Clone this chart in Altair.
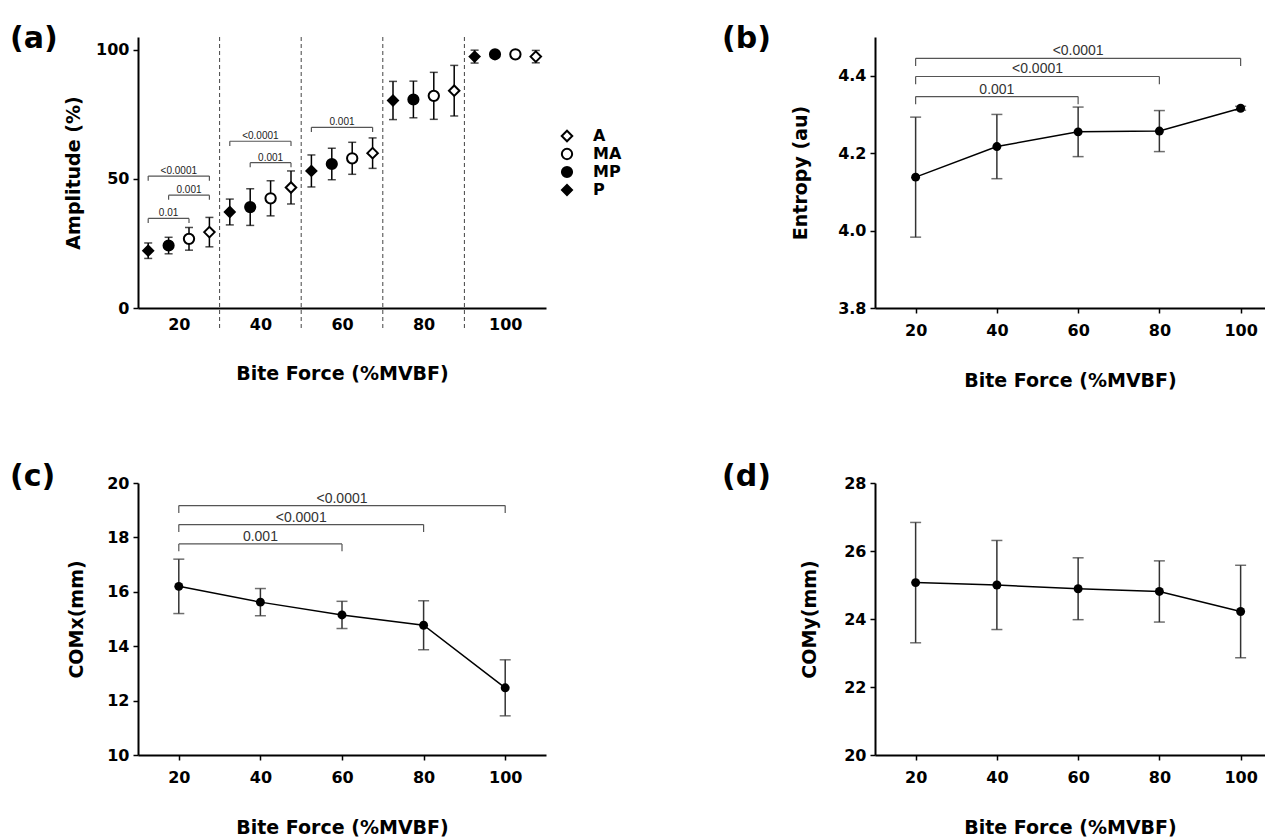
import altair as alt
import pandas as pd

BOLD = "DejaVu Sans"
REG = "Liberation Sans"

# ---------------- data ----------------
forces = [20, 40, 60, 80, 100]

# panel (a) amplitude (%) by region
series_names = ["A", "MA", "MP", "P"]
amp_A = [29.4, 46.7, 60.0, 84.2, 97.4]
amp_A_err = [5.7, 6.4, 5.9, 9.8, 2.4]
amp_MA = [26.8, 42.5, 58.0, 82.2, 98.3]
amp_MA_err = [4.4, 6.8, 6.2, 9.1, 0.8]
amp_MP = [24.2, 39.1, 55.8, 80.8, 98.3]
amp_MP_err = [3.2, 7.1, 6.1, 7.1, 1.0]
amp_P = [22.2, 37.2, 53.1, 80.4, 97.4]
amp_P_err = [3.0, 5.0, 6.2, 7.4, 2.5]

brk_a_force = [20, 20, 20, 40, 40, 60]
brk_a_from = ["P", "MP", "P", "P", "MP", "P"]
brk_a_to = ["A", "A", "MA", "A", "A", "A"]
brk_a_y = [51.1, 43.7, 34.7, 64.6, 56.3, 70.0]
brk_a_label = ["<0.0001", "0.001", "0.01", "<0.0001", "0.001", "0.001"]

# panel (b) entropy
ent = [4.138, 4.217, 4.255, 4.257, 4.316]
ent_err = [0.155, 0.083, 0.064, 0.053, 0.005]
brk_b_to = [60, 80, 100]
brk_b_y = [4.346, 4.398, 4.445]
brk_b_label = ["0.001", "<0.0001", "<0.0001"]

# panel (c) COMx
comx = [16.2, 15.62, 15.15, 14.77, 12.47]
comx_err = [1.0, 0.5, 0.5, 0.9, 1.03]
brk_c_to = [60, 80, 100]
brk_c_y = [17.76, 18.47, 19.17]
brk_c_label = ["0.001", "<0.0001", "<0.0001"]

# panel (d) COMy
comy = [25.07, 25.0, 24.89, 24.81, 24.22]
comy_err = [1.77, 1.31, 0.91, 0.9, 1.36]

# ---------------- style helpers ----------------
DODGE = {"P": -7.5, "MP": -2.5, "MA": 2.5, "A": 7.5}
NO_VIEW = alt.ViewBackground(stroke="transparent", strokeWidth=0, strokeOpacity=0)


def dodge_expr(field):
    return "(" + " : ".join(
        [f"datum.{field} == '{k}' ? {v}" for k, v in DODGE.items()]) + " : 0)"


def y_axis(title, values, fmt, pad):
    return alt.Axis(title=title, values=values, format=fmt, grid=False,
                    domainColor="black", domainWidth=2, tickColor="black",
                    tickWidth=1.5, tickSize=5, labelPadding=4, labelFlush=False,
                    labelFont=BOLD, labelFontWeight="bold", labelFontSize=16,
                    labelColor="black", titleFont=BOLD, titleFontWeight="bold",
                    titleFontSize=19, titleColor="black", titlePadding=pad)


def x_axis(ticks=True):
    return alt.Axis(title="Bite Force (%MVBF)", values=forces, format="d",
                    grid=False, domainColor="black", domainWidth=2,
                    ticks=ticks, tickColor="black", tickWidth=1.5, tickSize=5,
                    labelPadding=9 if ticks else 8, labelFlush=False,
                    labelFont=BOLD, labelFontWeight="bold", labelFontSize=16,
                    labelColor="black", titleFont=BOLD, titleFontWeight="bold",
                    titleFontSize=19, titleColor="black",
                    titlePadding=33 if ticks else 32)


def panel_title(text, dx, dy):
    return alt.Title(text, anchor="start", frame="group", dx=dx, dy=dy, offset=0,
                     baseline="alphabetic", font=BOLD, fontSize=30,
                     fontWeight="bold", color="black")


TITLE_DY = 41

# ---------------- panel (a) ----------------
rows = []
for s, vals, errs in zip(series_names, [amp_A, amp_MA, amp_MP, amp_P],
                         [amp_A_err, amp_MA_err, amp_MP_err, amp_P_err]):
    for f, v, e in zip(forces, vals, errs):
        rows.append({"force": f, "series": s, "val": v, "lo": v - e, "hi": v + e})
df_a = pd.DataFrame(rows)

df_sep = pd.DataFrame({"sep": [(forces[i] + forces[i + 1]) / 2
                               for i in range(len(forces) - 1)]})
df_brk_a = pd.DataFrame({"force": brk_a_force, "s1": brk_a_from, "s2": brk_a_to,
                         "y": brk_a_y, "label": brk_a_label})

xa = alt.Scale(domain=[10, 110], nice=False, zero=False)
ya = alt.Scale(domain=[0, 105], nice=False, zero=False)
XA = x_axis(ticks=False)
YA = y_axis("Amplitude (%)", [0, 50, 100], "d", 12)

sep_layer = alt.Chart(df_sep).mark_rule(strokeDash=[4, 3], color="#444",
                                        strokeWidth=1).encode(
    x=alt.X("sep:Q", scale=xa, axis=XA),
    y=alt.Y(datum=105, type="quantitative", scale=ya, axis=YA),
    y2=alt.datum(-8.5))

base_brk_a = alt.Chart(df_brk_a).transform_calculate(
    x1="datum.force + " + dodge_expr("s1"),
    x2="datum.force + " + dodge_expr("s2"),
    ylo="datum.y - 1.8",
).transform_calculate(xm="(datum.x1 + datum.x2) / 2")
brk_style = dict(color="#555", strokeWidth=1.2)
brk_a_h = base_brk_a.mark_rule(**brk_style).encode(
    x=alt.X("x1:Q", scale=xa, axis=XA), x2="x2:Q",
    y=alt.Y("y:Q", scale=ya, axis=YA))
brk_a_l = base_brk_a.mark_rule(**brk_style).encode(
    x=alt.X("x1:Q", scale=xa, axis=XA), y=alt.Y("y:Q", scale=ya, axis=YA),
    y2="ylo:Q")
brk_a_r = base_brk_a.mark_rule(**brk_style).encode(
    x=alt.X("x2:Q", scale=xa, axis=XA), y=alt.Y("y:Q", scale=ya, axis=YA),
    y2="ylo:Q")
brk_a_t = base_brk_a.mark_text(baseline="alphabetic", dy=-2, font=REG,
                               fontSize=10, color="#222").encode(
    x=alt.X("xm:Q", scale=xa, axis=XA), y=alt.Y("y:Q", scale=ya, axis=YA),
    text="label:N")

base_a = alt.Chart(df_a).transform_calculate(
    xpos="datum.force + " + dodge_expr("series"))
err_a = base_a.mark_errorbar(ticks=True, size=8, thickness=1.5,
                             color="black").encode(
    x=alt.X("xpos:Q", scale=xa, axis=XA),
    y=alt.Y("lo:Q", scale=ya, axis=YA), y2="hi:Q")

legend_a = alt.Legend(title=None, orient="none", legendX=421, legendY=91,
                      labelFont=BOLD, labelFontWeight="bold", labelFontSize=16,
                      labelColor="black", labelOffset=18, rowPadding=-2,
                      symbolStrokeWidth=2)
pts_a = base_a.mark_point(strokeWidth=2, opacity=1).encode(
    x=alt.X("xpos:Q", scale=xa, axis=XA),
    y=alt.Y("val:Q", scale=ya, axis=YA),
    shape=alt.Shape("series:N", scale=alt.Scale(
        domain=series_names, range=["diamond", "circle", "circle", "diamond"]),
        legend=legend_a),
    fill=alt.Fill("series:N", scale=alt.Scale(
        domain=series_names, range=["white", "white", "black", "black"]),
        legend=legend_a),
    stroke=alt.Stroke("series:N", scale=alt.Scale(
        domain=series_names, range=["black", "black", "black", "black"]),
        legend=legend_a),
    size=alt.Size("series:N", scale=alt.Scale(
        domain=series_names, range=[110, 100, 70, 75]), legend=legend_a),
)

panel_a = alt.layer(sep_layer, brk_a_h, brk_a_l, brk_a_r, brk_a_t, err_a,
                    pts_a).properties(
    width=408, height=271, view=NO_VIEW,
    title=panel_title("(a)", -128, TITLE_DY))


# ---------------- line panels ----------------
def line_panel(vals, errs, ydom, yvals, ytitle, yfmt, ypad, width, height,
               xdom, title, tdx, brk_to=None, brk_y=None, brk_label=None,
               drop=0.0):
    df = pd.DataFrame({"force": forces, "val": vals,
                       "lo": [v - e for v, e in zip(vals, errs)],
                       "hi": [v + e for v, e in zip(vals, errs)]})
    xs = alt.Scale(domain=xdom, nice=False, zero=False)
    ys = alt.Scale(domain=ydom, nice=False, zero=False)
    XX = x_axis(ticks=True)
    YY = y_axis(ytitle, yvals, yfmt, ypad)
    X = lambda f: alt.X(f, scale=xs, axis=XX)
    Y = lambda f: alt.Y(f, scale=ys, axis=YY)
    layers = []
    if brk_to is not None:
        dfb = pd.DataFrame({"x1": [forces[0]] * len(brk_to), "x2": brk_to,
                            "y": brk_y, "label": brk_label})
        bb = alt.Chart(dfb).transform_calculate(
            ylo=f"datum.y - {drop}", xm="(datum.x1 + datum.x2) / 2")
        layers += [
            bb.mark_rule(**brk_style).encode(x=X("x1:Q"), x2="x2:Q", y=Y("y:Q")),
            bb.mark_rule(**brk_style).encode(x=X("x1:Q"), y=Y("y:Q"), y2="ylo:Q"),
            bb.mark_rule(**brk_style).encode(x=X("x2:Q"), y=Y("y:Q"), y2="ylo:Q"),
            bb.mark_text(baseline="alphabetic", dy=-3, font=REG, fontSize=14,
                         color="#333").encode(x=X("xm:Q"), y=Y("y:Q"),
                                              text="label:N"),
        ]
    base = alt.Chart(df)
    layers += [
        base.mark_errorbar(ticks=True, size=11, thickness=1.5,
                           color="#333").encode(x=X("force:Q"), y=Y("lo:Q"),
                                                y2="hi:Q"),
        base.mark_line(color="black", strokeWidth=1.5).encode(
            x=X("force:Q"), y=Y("val:Q")),
        base.mark_circle(size=80, color="black", opacity=1).encode(
            x=X("force:Q"), y=Y("val:Q")),
    ]
    return alt.layer(*layers).properties(width=width, height=height,
                                         view=NO_VIEW,
                                         title=panel_title(title, tdx, TITLE_DY))


panel_b = line_panel(ent, ent_err, [3.8, 4.5], [3.8, 4.0, 4.2, 4.4],
                     "Entropy (au)", ".1f", 27, 390, 271, [10, 106], "(b)", -153,
                     brk_b_to, brk_b_y, brk_b_label, 0.02)
panel_c = line_panel(comx, comx_err, [10, 20], [10, 12, 14, 16, 18, 20],
                     "COMx(mm)", "d", 20, 408, 272, [10, 110], "(c)", -128,
                     brk_c_to, brk_c_y, brk_c_label, 0.27)
panel_d = line_panel(comy, comy_err, [20, 28], [20, 22, 24, 26, 28],
                     "COMy(mm)", "d", 24, 390, 272, [10, 106], "(d)", -153)

chart = alt.ConcatChart(
    concat=[panel_a, panel_b, panel_c, panel_d], columns=2,
    spacing={"row": 175, "column": 329}, bounds="flush",
).properties(
    padding={"left": 2, "top": 15, "right": 0, "bottom": 0}
).configure_view(stroke="transparent", strokeWidth=0).configure(background="white")

chart.save("out.html", embed_options={"renderer": "svg", "actions": False})
